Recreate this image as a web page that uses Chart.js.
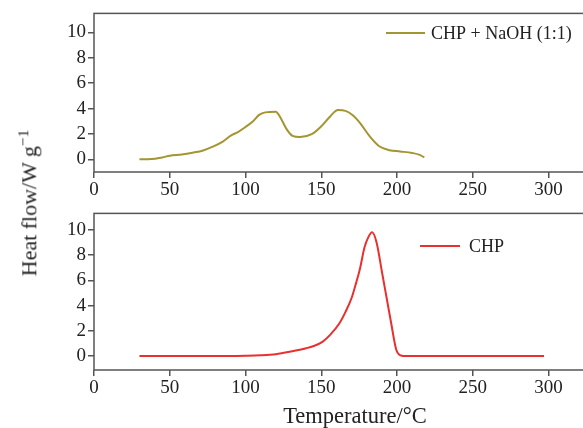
<!DOCTYPE html>
<html>
<head>
<meta charset="utf-8">
<script src="https://cdn.jsdelivr.net/npm/chart.js@4.4.0/dist/chart.umd.min.js"></script>
<style>
  html, body { margin: 0; padding: 0; background: #fff; }
  #wrap { position: relative; width: 583px; height: 428px; overflow: hidden; }
  canvas { position: absolute; left: 0; }
  #topChart { top: 0; }
  #botChart { top: 200px; }
  .title { position: absolute; font-family: 'Liberation Serif', 'DejaVu Serif', serif; color: #222; white-space: nowrap; line-height: 1; }
  #yTitle { font-size: 22px; left: 28px; top: 203px; transform: translate(-50%, -50%) rotate(-90deg); }
  #yTitle sup { font-size: 0.7em; }
  #xTitle { font-size: 22.5px; left: 355px; top: 405px; transform: translateX(-50%); }
</style>
</head>
<body>
<div id="wrap">
  <canvas id="topChart" width="600" height="200"></canvas>
  <canvas id="botChart" width="600" height="210"></canvas>
  <div class="title" id="yTitle">Heat flow/W g<sup>−1</sup></div>
  <div class="title" id="xTitle">Temperature/°C</div>
</div>
<script>
// CHP + NaOH (1:1)
const tempMix = [30, 38, 45, 50, 58, 65, 72, 78, 85, 90, 95, 100, 105, 109, 113, 120, 123, 127, 131, 136, 144, 150, 156, 161, 166, 171, 176, 182, 188, 195, 202, 210, 215, 218];
const heatMix = [0, 0.02, 0.15, 0.28, 0.38, 0.52, 0.7, 0.98, 1.4, 1.85, 2.15, 2.55, 3.0, 3.5, 3.7, 3.75, 3.3, 2.4, 1.85, 1.75, 2.0, 2.6, 3.4, 3.88, 3.82, 3.45, 2.8, 1.8, 1.05, 0.72, 0.62, 0.5, 0.35, 0.15];

// CHP
const tempChp = [30, 60, 90, 100, 110, 120, 130, 140, 145, 151, 156, 162, 166, 170, 173, 175.5, 178.5, 181, 183.5, 186.5, 190, 193, 196, 199.5, 202.5, 206, 250, 297];
const heatChp = [0, 0, 0, 0.02, 0.06, 0.15, 0.36, 0.62, 0.8, 1.15, 1.7, 2.6, 3.5, 4.6, 5.8, 6.9, 8.6, 9.4, 9.8, 9.0, 6.7, 4.7, 2.7, 0.5, 0.05, 0, 0, 0];

const xTicks = [0, 50, 100, 150, 200, 250, 300];
const yTicks = [0, 2, 4, 6, 8, 10];

const FONT = "'Liberation Serif', 'DejaVu Serif', serif";
const AXIS = '#555';

// box round the plot area + inner legend
const framePlugin = {
    id: 'frame',
    afterDatasetsDraw(chart, args, opts) {
        const { ctx, chartArea: a } = chart;
        ctx.save();
        ctx.strokeStyle = AXIS;
        ctx.lineWidth = 1.5;
        ctx.strokeRect(a.left, a.top, a.right - a.left, a.bottom - a.top);

        // legend
        const ds = chart.data.datasets[0];
        ctx.strokeStyle = ds.borderColor;
        ctx.lineWidth = 2;
        ctx.beginPath();
        ctx.moveTo(opts.x1, opts.y);
        ctx.lineTo(opts.x2, opts.y);
        ctx.stroke();
        ctx.fillStyle = '#222';
        ctx.font = '18px ' + FONT;
        ctx.textBaseline = 'middle';
        ctx.fillText(ds.label, opts.tx, opts.y + 1);
        ctx.restore();
    }
};

function makeChart(id, xs, ys, label, color, yMin, yMax, axisHeight, legend) {
    const pts = xs.map((x, i) => ({ x: x, y: ys[i] }));
    return new Chart(document.getElementById(id), {
        type: 'line',
        data: {
            datasets: [{
                label: label,
                data: pts,
                borderColor: color,
                borderWidth: 2,
                pointRadius: 0,
                fill: false,
                cubicInterpolationMode: 'monotone'
            }]
        },
        options: {
            responsive: false,
            animation: false,
            devicePixelRatio: 1,
            layout: { padding: { top: 13, right: 6, left: 0, bottom: 0 } },
            plugins: {
                legend: { display: false },
                tooltip: { enabled: false },
                frame: legend
            },
            scales: {
                x: {
                    type: 'linear',
                    min: 0,
                    max: 330,
                    afterBuildTicks: s => { s.ticks = xTicks.map(v => ({ value: v })); },
                    afterFit: s => { s.height = axisHeight; },
                    border: { display: false },
                    grid: { drawOnChartArea: false, color: AXIS, lineWidth: 1.5, tickLength: 6 },
                    ticks: { color: '#222', font: { family: FONT, size: 19 }, padding: 1, maxRotation: 0, autoSkip: false }
                },
                y: {
                    min: yMin,
                    max: yMax,
                    afterBuildTicks: s => { s.ticks = yTicks.map(v => ({ value: v })); },
                    afterFit: s => { s.width = 94; },
                    border: { display: false },
                    grid: { drawOnChartArea: false, color: AXIS, lineWidth: 1.5, tickLength: 6 },
                    ticks: { color: '#222', font: { family: FONT, size: 19 }, padding: 2 }
                }
            }
        },
        plugins: [framePlugin]
    });
}

makeChart('topChart', tempMix, heatMix, 'CHP + NaOH (1:1)', '#a39530', -1, 11.5, 28,
    { x1: 386, x2: 425, y: 33, tx: 431 });
makeChart('botChart', tempChp, heatChp, 'CHP', '#e8302e', -1.1, 11.3, 40,
    { x1: 420, x2: 460, y: 46, tx: 469 });
</script>
</body>
</html>
